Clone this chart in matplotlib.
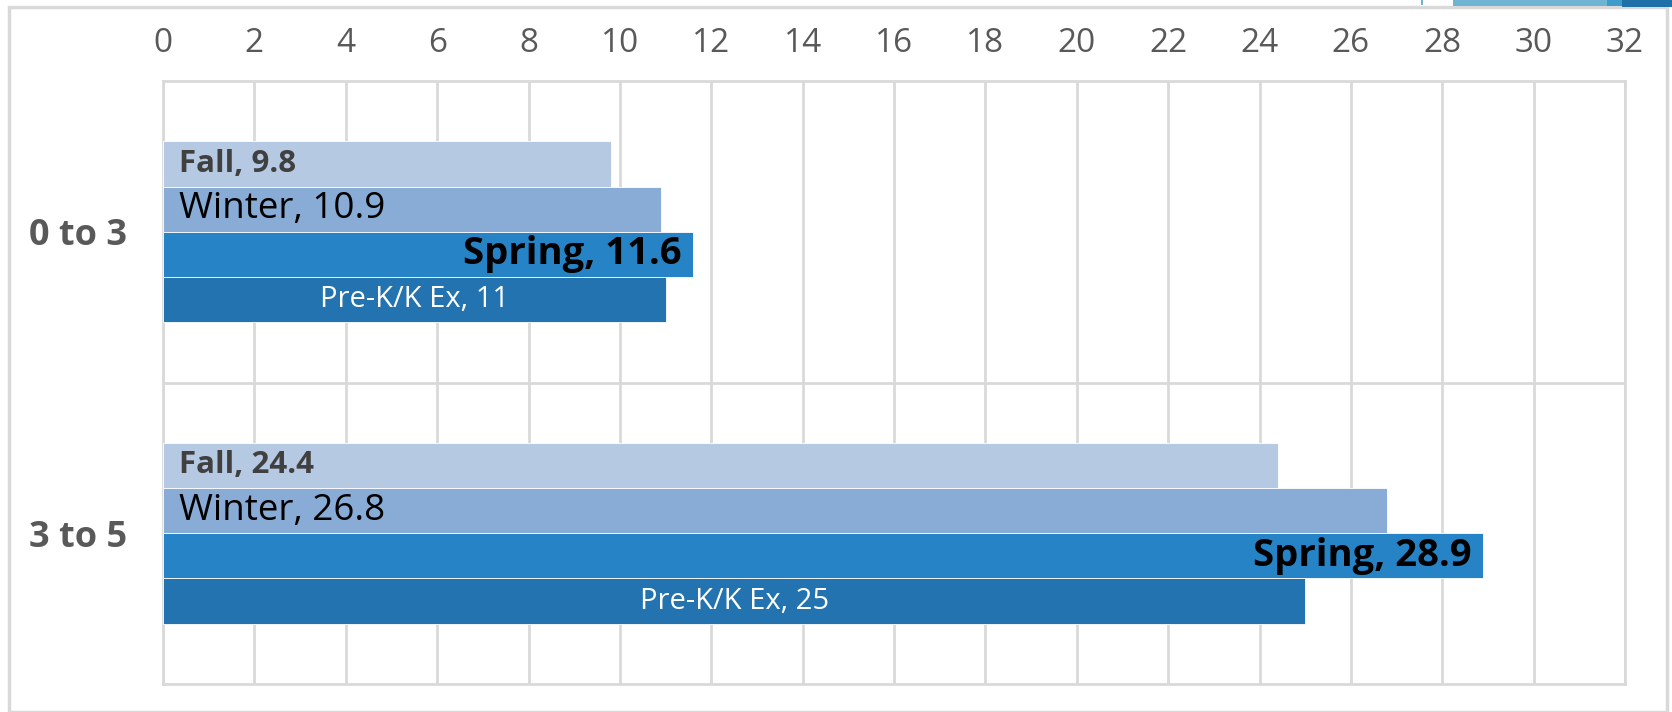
import matplotlib.pyplot as plt
from matplotlib.patches import Rectangle
import numpy as np

categories = ["0 to 3", "3 to 5"]
series = ["Fall", "Winter", "Spring", "Pre-K/K Ex"]
fall = [9.8, 24.4]
winter = [10.9, 26.8]
spring = [11.6, 28.9]
prek = [11, 25]
values = [fall, winter, spring, prek]
colors = ["#B5C9E3", "#88ACD6", "#2683C6", "#2373B0"]

plt.rcParams['font.family'] = ['Open Sans', 'DejaVu Sans']

W, H = 1672, 712
fig = plt.figure(figsize=(W / 100, H / 100), dpi=100)
ax = fig.add_axes([163 / W, 1 - 684 / H, (1625 - 163) / W, (684 - 81) / H])

# outer frame and the blue shape peeking in at the top right
fig.patches.append(Rectangle((9 / W, 0), (1667 - 9) / W, (H - 7) / H,
                             transform=fig.transFigure, fill=False, edgecolor="#d9d9d9", lw=2.5))
fig.patches.append(Rectangle((1453 / W, 1 - 6 / H), 172 / W, 6 / H,
                             transform=fig.transFigure, facecolor="#6FB4D2", edgecolor="none"))
fig.patches.append(Rectangle((1607 / W, 1 - 6 / H), 16 / W, 6 / H,
                             transform=fig.transFigure, facecolor="#3E9CCB", edgecolor="none"))
fig.patches.append(Rectangle((1622 / W, 1 - 7 / H), 50 / W, 7 / H,
                             transform=fig.transFigure, facecolor="#1F6FA8", edgecolor="none"))
fig.patches.append(Rectangle((1421 / W, 1 - 5 / H), 2 / W, 5 / H,
                             transform=fig.transFigure, facecolor="#6FB4D2", edgecolor="none"))

bar_h = 0.15
y = np.arange(len(categories))
for i, (name, vals, c) in enumerate(zip(series, values, colors)):
    pos = y + (i - 1.5) * bar_h
    ax.barh(pos, vals, height=bar_h, color=c, edgecolor="white", linewidth=0.6, zorder=3)
    for p, v in zip(pos, vals):
        lbl = f"{name}, {v:g}"
        if name == "Fall":
            ax.text(0.35, p, lbl, va="center", ha="left", fontsize=22.5, fontweight="bold", color="#404040", zorder=4)
        elif name == "Winter":
            ax.text(0.35, p, lbl, va="center", ha="left", fontsize=26.5, color="black", zorder=4)
        elif name == "Spring":
            ax.text(v - 0.25, p, lbl, va="center", ha="right", fontsize=27.5, fontweight="bold", color="black", zorder=4)
        else:
            ax.text(v / 2, p, lbl, va="center", ha="center", fontsize=21, color="white", zorder=4)

ax.set_xlim(0, 32)
ax.set_ylim(1.5, -0.5)
ax.set_xticks(np.arange(0, 33, 2))
ax.xaxis.tick_top()
ax.tick_params(axis="x", length=0, pad=15, labelsize=24, labelcolor="#595959")
ax.set_yticks(y)
ax.set_yticklabels(categories, fontsize=26, fontweight="bold", color="#595959")
ax.tick_params(axis="y", length=0, pad=26)
ax.set_yticks([0.5], minor=True)
ax.tick_params(axis="y", which="minor", length=0)
ax.grid(axis="x", color="#d9d9d9", lw=2, zorder=0)
ax.grid(axis="y", which="minor", color="#d9d9d9", lw=2, zorder=0)
for s in ax.spines.values():
    s.set_color("#d9d9d9")
    s.set_linewidth(2)

fig.savefig("out.png", dpi=100)
